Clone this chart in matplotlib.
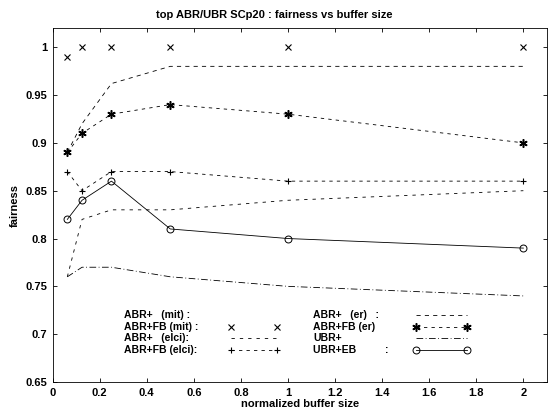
import matplotlib
matplotlib.use("Agg")
import matplotlib.pyplot as plt
import numpy as np

# normalized buffer sizes
buffer_size = [0.0625, 0.125, 0.25, 0.5, 1, 2]

abr_fb_mit = [0.99, 1.0, 1.0, 1.0, 1.0, 1.0]
abr_er = [0.89, 0.92, 0.962, 0.98, 0.98, 0.98]
abr_fb_er = [0.89, 0.91, 0.93, 0.94, 0.93, 0.90]
abr_fb_elci = [0.87, 0.85, 0.87, 0.87, 0.86, 0.86]
abr_elci = [0.76, 0.82, 0.83, 0.83, 0.84, 0.85]
ubr_eb = [0.82, 0.84, 0.86, 0.81, 0.80, 0.79]
ubr = [0.76, 0.77, 0.77, 0.76, 0.75, 0.74]

plt.rcParams["font.family"] = "Liberation Sans"

fig = plt.figure(figsize=(5.48, 4.13), dpi=100)
ax = fig.add_axes([0.096, 0.075, 0.902, 0.857])

k = "black"
lw = 0.6
ast = (6, 2, 0)

styles = {
    "mit": None,  # no visible sample in the original legend
    "fbmit": dict(linestyle="none", marker="x", markersize=4.5, mew=0.8),
    "elci": dict(linestyle=(0, (4, 6)), lw=lw),
    "fbelci": dict(linestyle=(0, (4, 5)), lw=lw, marker="+", markersize=5,
                   mew=0.8),
    "er": dict(linestyle=(0, (5, 5)), lw=lw),
    "fber": dict(linestyle=(0, (4, 5)), lw=lw, marker=ast, markersize=6,
                 mew=1.1),
    "ubr": dict(linestyle=(0, (8, 3, 1, 3)), lw=lw),
    "ubreb": dict(linestyle="-", lw=lw, marker="o", markersize=5, mfc="none",
                  mew=0.7),
}

ax.plot(buffer_size, abr_fb_mit, color=k, **styles["fbmit"])
ax.plot(buffer_size, abr_er, color=k, **styles["er"])
ax.plot(buffer_size, abr_fb_er, color=k, **styles["fber"])
ax.plot(buffer_size, abr_fb_elci, color=k, **styles["fbelci"])
ax.plot(buffer_size, abr_elci, color=k, **styles["elci"])
ax.plot(buffer_size, ubr_eb, color=k, **styles["ubreb"])
ax.plot(buffer_size, ubr, color=k, **styles["ubr"])

# old-style legend: label text on the left, sample on the right
legend_labels = ["ABR+   (mit) :", "ABR+FB (mit) :", "ABR+   (elci):",
                 "ABR+FB (elci):", "ABR+   (er)   :", "ABR+FB (er)",
                 "UBR+", "UBR+EB          :"]
legend_keys = ["mit", "fbmit", "elci", "fbelci", "er", "fber", "ubr", "ubreb"]
row_y = [0.720, 0.708, 0.696, 0.684]
col_text_x = [0.305, 1.107]
col_line_x = [(0.756, 0.955), (1.545, 1.76)]
for i, (lab, key) in enumerate(zip(legend_labels, legend_keys)):
    col, row = divmod(i, 4)
    y = row_y[row]
    ax.text(col_text_x[col], y, lab, fontsize=7.5, fontweight="bold",
            va="center", ha="left")
    if styles[key] is None:
        continue
    x0, x1 = col_line_x[col]
    ax.plot([x0, x1], [y, y], color=k, **styles[key])

ax.set_xlim(0, 2.1)
ax.set_ylim(0.65, 1.02)
ax.set_xticks(np.arange(0, 2.01, 0.2))
ax.set_xticklabels(["0", "0.2", "0.4", "0.6", "0.8", "1", "1.2", "1.4",
                    "1.6", "1.8", "2"])
ax.set_yticks([0.65, 0.7, 0.75, 0.8, 0.85, 0.9, 0.95, 1.0])
ax.set_yticklabels(["0.65", "0.7", "0.75", "0.8", "0.85", "0.9", "0.95", "1"])
ax.tick_params(direction="in", top=True, right=True, length=3, width=0.6,
               labelsize=8, pad=4)
for lbl in ax.get_xticklabels() + ax.get_yticklabels():
    lbl.set_fontweight("bold")
for s in ax.spines.values():
    s.set_linewidth(0.6)

ax.set_title("top ABR/UBR SCp20 : fairness vs buffer size", fontsize=8,
             fontweight="bold", pad=7, x=0.448)
ax.set_xlabel("normalized buffer size", fontsize=8, fontweight="bold",
              labelpad=1)
ax.set_ylabel("fairness", fontsize=8, fontweight="bold", labelpad=4)

fig.savefig("out.png", dpi=100)
